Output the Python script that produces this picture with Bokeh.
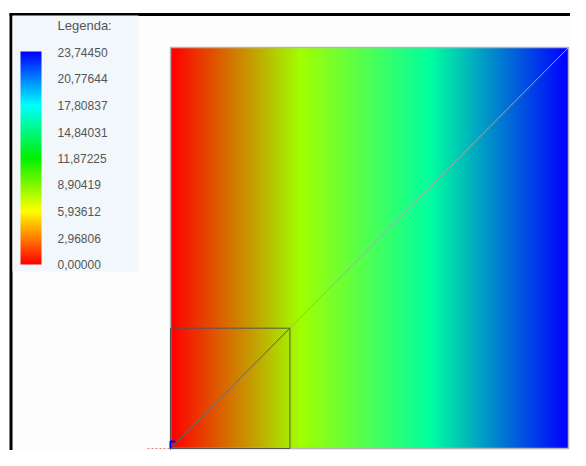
import numpy as np
from bokeh.plotting import figure
from bokeh.models import Range1d, LinearColorMapper
from bokeh.core.properties import value
from bokeh.embed import file_html
from bokeh.resources import INLINE

# ---- data ----
v_min = 0.0
v_max = 23.74450
legend_values = [23.74450, 20.77644, 17.80837, 14.84031, 11.87225, 8.90419, 5.93612, 2.96806, 0.00000]
legend_title = "Legenda:"
domain_size = 10.0          # big square side (data units)
zoom_size = 3.0             # small square side (data units)

# colour stops for field and legend
field_stops = [(0.0, (255, 0, 0)), (0.327, (160, 255, 0)), (0.653, (0, 255, 160)), (1.0, (0, 0, 255))]
legend_stops = [(0.0, (255, 0, 0)), (0.25, (255, 255, 0)), (0.5, (0, 240, 0)), (0.75, (0, 255, 255)), (1.0, (0, 0, 255))]


def make_palette(stops, n=256):
    pos = [s[0] for s in stops]
    out = []
    for t in np.linspace(0, 1, n):
        c = [int(round(np.interp(t, pos, [s[1][k] for s in stops]))) for k in range(3)]
        out.append("#%02x%02x%02x" % tuple(c))
    return out


# pixel -> data helpers (layout only); figure pixel coordinates
PX0, PY0 = 170.0, 448.0
SX, SY = 398.0 / domain_size, 401.0 / domain_size


def dx(px):
    return (px - PX0) / SX


def dy(py):
    return (PY0 - py) / SY


W, H = 570, 450
p = figure(width=W, height=H, output_backend="svg", toolbar_location=None,
           x_range=Range1d(dx(0), dx(W)), y_range=Range1d(dy(H), dy(0)),
           min_border=0, background_fill_color="#fdfdfd", border_fill_color="white")
p.axis.visible = False
p.grid.visible = False
p.outline_line_color = None

# outer white strips and frame
p.quad(left=dx(-5), right=dx(W + 5), bottom=dy(13), top=dy(-5), fill_color="white", line_color=None)
p.quad(left=dx(-5), right=dx(9), bottom=dy(H + 5), top=dy(-5), fill_color="white", line_color=None)
p.segment(x0=[dx(9), dx(10.5)], y0=[dy(14), dy(13)], x1=[dx(W + 5), dx(10.5)], y1=[dy(14), dy(H + 5)],
          line_color="black", line_width=3)

# field image
N = 400
field = np.tile(np.linspace(v_min, v_max, N), (2, 1))
fmap = LinearColorMapper(palette=make_palette(field_stops), low=v_min, high=v_max)
p.image(image=[field], x=0, y=0, dw=domain_size, dh=domain_size, color_mapper=fmap)

# borders and diagonals
p.quad(left=0, right=domain_size, bottom=0, top=domain_size, fill_color=None,
       line_color="#b4b4b4", line_width=1.5)
p.line([0, domain_size], [0, domain_size], line_color="#a8a8a8", line_width=1)
p.quad(left=0, right=zoom_size, bottom=0, top=zoom_size, fill_color=None,
       line_color="#555555", line_width=1)
p.line([0, zoom_size], [0, zoom_size], line_color="#5a5a5a", line_width=1)

# origin marker
p.line([dx(147), 0], [0, 0], line_color="#e08080", line_width=1, line_dash="2 2")
p.line([0, 0], [0, dy(470)], line_color="#60a060", line_width=1, line_dash="2 2")
p.line([0, 0, dx(175)], [0, dy(441), dy(441)], line_color="#0000ff", line_width=2)

# legend box
p.quad(left=dx(12), right=dx(138), bottom=dy(271), top=dy(15), fill_color="#f1f7fb", line_color=None)
lmap = LinearColorMapper(palette=make_palette(legend_stops), low=v_min, high=v_max)
bar = np.tile(np.linspace(v_min, v_max, N)[:, None], (1, 2))
p.image(image=[bar], x=dx(20), y=dy(264), dw=dx(41) - dx(20), dh=dy(51) - dy(264), color_mapper=lmap)

p.text(x=[dx(57)], y=[dy(25)], text=[legend_title], text_font=value("Liberation Sans"),
       text_font_size="13px", text_color="#555555", text_baseline="middle")
ly_top, ly_bot = 52.0, 264.0
ys = [dy(ly_bot - (v - v_min) / (v_max - v_min) * (ly_bot - ly_top)) for v in legend_values]
labels = [("%.5f" % v).replace(".", ",") for v in legend_values]
p.text(x=[dx(57)] * len(labels), y=ys, text=labels, text_font=value("Liberation Sans"),
       text_font_size="12px", text_color="#555555", text_baseline="middle")

open("out.html", "w").write(file_html(p, INLINE))
